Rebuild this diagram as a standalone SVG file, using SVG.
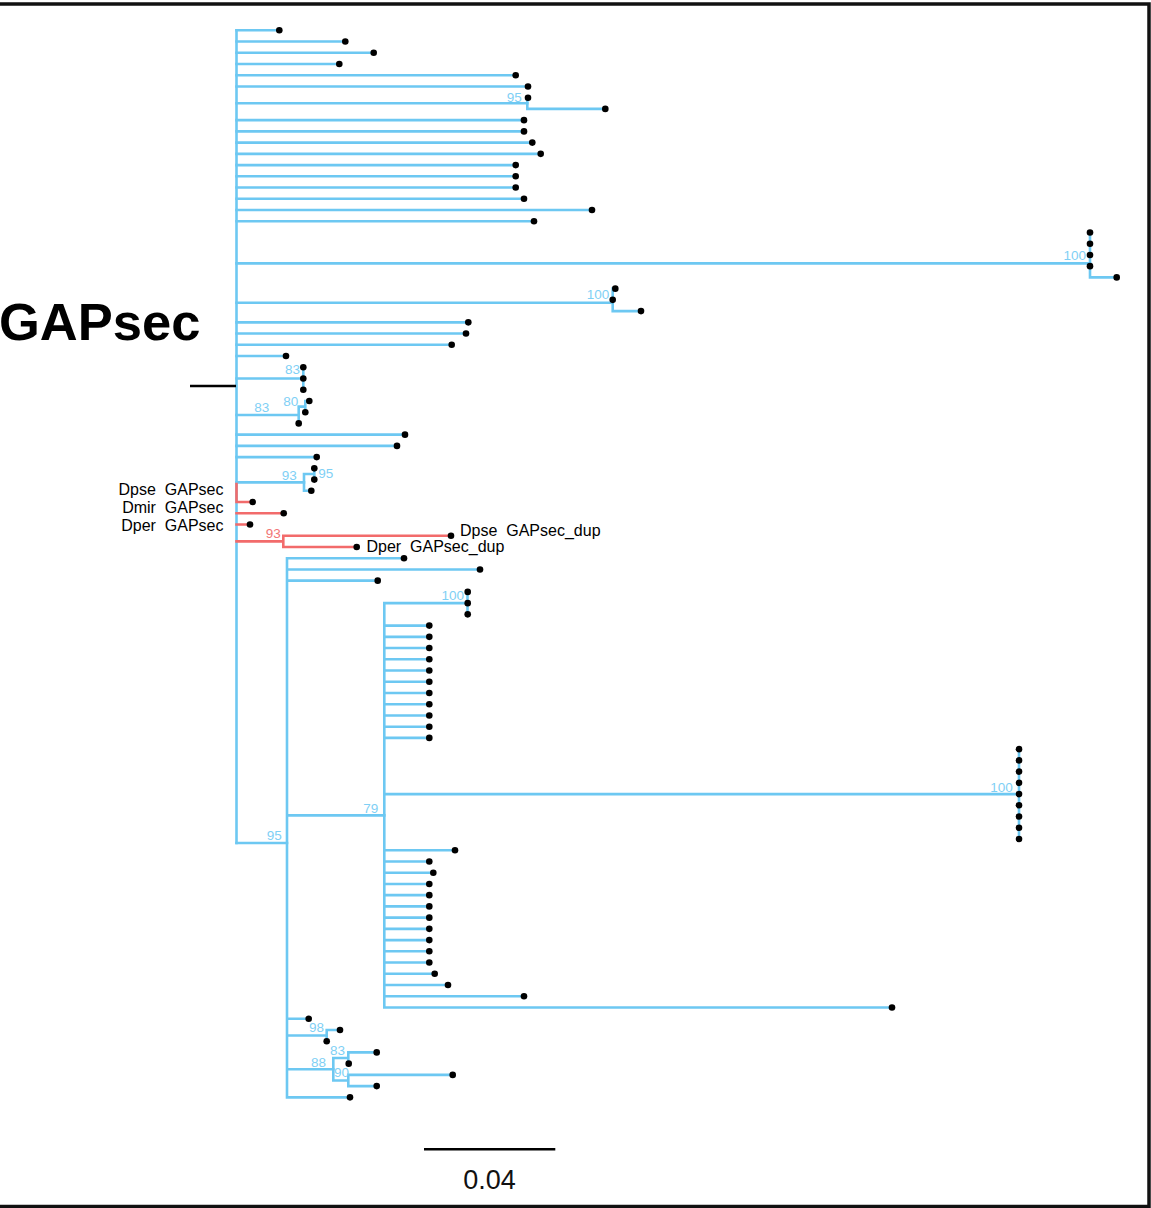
<svg xmlns="http://www.w3.org/2000/svg" width="1151" height="1208" viewBox="0 0 1151 1208">
<style>
.b{stroke:#6DC8F2;stroke-width:2.6;fill:none;stroke-linecap:square}
.r{stroke:#F26B6B;stroke-width:2.6;fill:none;stroke-linecap:square}
.d{fill:#000}
.bs{font-family:"Liberation Sans",Arial,sans-serif;font-size:13.5px;fill:#7FD0F5;text-anchor:end}
.bsr{font-family:"Liberation Sans",Arial,sans-serif;font-size:13.5px;fill:#F27575;text-anchor:end}
.lab{font-family:"Liberation Sans",Arial,sans-serif;font-size:16px;fill:#000;white-space:pre}
</style>
<rect x="0" y="0" width="1151" height="1208" fill="#fff"/>
<rect x="-5" y="4" width="1154" height="1202.5" fill="none" stroke="#111" stroke-width="3.5"/>
<text x="-1" y="340" font-family="Liberation Sans,Arial,sans-serif" font-size="52.5" font-weight="bold" fill="#000">GAPsec</text>
<g id="connectors">
<path class="b" d="M236.5 30.3V843.07"/>
<path d="M190 386H236" stroke="#000" stroke-width="2.5"/>
<path class="b" d="M236.5 30.3H279.3M236.5 41.53H345.3M236.5 52.76H373.7M236.5 64H339.3M236.5 75.23H515.7M236.5 86.46H528M236.5 103.3H527.3M236.5 120.16H524M236.5 131.39H524M236.5 142.62H532.3M236.5 153.85H540.7M236.5 165.08H515.7M236.5 176.32H515.7M236.5 187.55H515.7M236.5 198.78H524M236.5 210.01H592M236.5 221.24H534M236.5 263.4H1090M236.5 302.7H612.7M236.5 322.33H468.3M236.5 333.56H466M236.5 344.8H451.7M236.5 356.03H286M236.5 378.49H303.3M236.5 415H298.7M236.5 434.65H405M236.5 445.88H397M236.5 457.12H316.7M236.5 482.4H304M236.5 843.07H287"/>
<path class="b" d="M527.3 97.69V108.92M527.3 97.69H528M527.3 108.92H605.3"/>
<path class="b" d="M1090 232.48V277.4H1116.7"/>
<path class="b" d="M612.7 288.64V311.1H641M612.7 288.64H615.3"/>
<path class="b" d="M303.3 367.26V389.72"/>
<path class="b" d="M298.7 406.6V423.42M298.7 406.6H305.3M305.3 400.96V412.19M305.3 400.96H309.3"/>
<path class="b" d="M304 473.97V490.81H311.3M304 473.97H314.3M314.3 468.35V479.58"/>
<path class="b" d="M287 558.2V1097.34M287 558.2H404M287 569.44H480M287 580.67H377.7M287 815.34H384.3M287 1018.72H308.7M287 1035.57H326.7M287 1069.26H333.3M287 1097.34H350"/>
<path class="b" d="M384.3 603.13V1007.48M384.3 603.13H467.5M384.3 625.6H429.3M384.3 636.83H429.3M384.3 648.06H429.3M384.3 659.29H429.3M384.3 670.52H429.3M384.3 681.76H429.3M384.3 692.99H429.3M384.3 704.22H429.3M384.3 715.45H429.3M384.3 726.68H429.3M384.3 737.92H429.3M384.3 794.08H1019M384.3 850.24H455M384.3 861.47H429.3M384.3 872.7H433.3M384.3 883.93H429.3M384.3 895.16H429.3M384.3 906.4H429.3M384.3 917.63H429.3M384.3 928.86H429.3M384.3 940.09H429.3M384.3 951.32H429.3M384.3 962.56H429.3M384.3 973.79H434.7M384.3 985.02H448M384.3 996.25H524M384.3 1007.48H892"/>
<path class="b" d="M467.5 591.9V614.36M1019 749.15V839"/>
<path class="b" d="M326.7 1029.95V1041.18M326.7 1029.95H340"/>
<path class="b" d="M333.3 1058.03V1080.5M333.3 1058.03H348.3M333.3 1080.5H348.3M348.3 1052.41V1063.64M348.3 1052.41H376.7M348.3 1074.88V1086.11M348.3 1074.88H452.7M348.3 1086.11H376.7"/>
<path class="r" d="M236.5 484V502.04H252.7M236.5 513.28H283.7M236.5 524.51H250M236.5 541.36H283.3M283.3 535.74V546.97M283.3 535.74H451M283.3 546.97H356.7"/>
</g>
<g id="support">
<text class="bs" x="521.7" y="101.5">95</text>
<text class="bs" x="1086" y="260">100</text>
<text class="bs" x="609.3" y="299">100</text>
<text class="bs" x="300" y="374.3">83</text>
<text class="bs" x="298.3" y="406">80</text>
<text class="bs" x="269.3" y="411.5">83</text>
<text class="bs" x="296.7" y="480">93</text>
<text class="bs" x="318.3" y="478.3" style="text-anchor:start">95</text>
<text class="bsr" x="280.7" y="538">93</text>
<text class="bs" x="464" y="600">100</text>
<text class="bs" x="1012.7" y="792.3">100</text>
<text class="bs" x="378.3" y="813">79</text>
<text class="bs" x="281.7" y="840">95</text>
<text class="bs" x="324" y="1032">98</text>
<text class="bs" x="345" y="1055.3">83</text>
<text class="bs" x="326" y="1067.3">88</text>
<text class="bs" x="349" y="1077">90</text>
</g>
<g id="tips" class="d">
<g id="tip0"><circle cx="279.3" cy="30.3" r="3.3"/></g>
<g id="tip1"><circle cx="345.3" cy="41.53" r="3.3"/></g>
<g id="tip2"><circle cx="373.7" cy="52.76" r="3.3"/></g>
<g id="tip3"><circle cx="339.3" cy="64" r="3.3"/></g>
<g id="tip4"><circle cx="515.7" cy="75.23" r="3.3"/></g>
<g id="tip5"><circle cx="528" cy="86.46" r="3.3"/></g>
<g id="tip6"><circle cx="528" cy="97.69" r="3.3"/></g>
<g id="tip7"><circle cx="605.3" cy="108.92" r="3.3"/></g>
<g id="tip8"><circle cx="524" cy="120.16" r="3.3"/></g>
<g id="tip9"><circle cx="524" cy="131.39" r="3.3"/></g>
<g id="tip10"><circle cx="532.3" cy="142.62" r="3.3"/></g>
<g id="tip11"><circle cx="540.7" cy="153.85" r="3.3"/></g>
<g id="tip12"><circle cx="515.7" cy="165.08" r="3.3"/></g>
<g id="tip13"><circle cx="515.7" cy="176.32" r="3.3"/></g>
<g id="tip14"><circle cx="515.7" cy="187.55" r="3.3"/></g>
<g id="tip15"><circle cx="524" cy="198.78" r="3.3"/></g>
<g id="tip16"><circle cx="592" cy="210.01" r="3.3"/></g>
<g id="tip17"><circle cx="534" cy="221.24" r="3.3"/></g>
<g id="tip18"><circle cx="1090" cy="232.48" r="3.3"/></g>
<g id="tip19"><circle cx="1090" cy="243.71" r="3.3"/></g>
<g id="tip20"><circle cx="1090" cy="254.94" r="3.3"/></g>
<g id="tip21"><circle cx="1090" cy="266.17" r="3.3"/></g>
<g id="tip22"><circle cx="1116.7" cy="277.4" r="3.3"/></g>
<g id="tip23"><circle cx="615.3" cy="288.64" r="3.3"/></g>
<g id="tip24"><circle cx="612.7" cy="299.87" r="3.3"/></g>
<g id="tip25"><circle cx="641" cy="311.1" r="3.3"/></g>
<g id="tip26"><circle cx="468.3" cy="322.33" r="3.3"/></g>
<g id="tip27"><circle cx="466" cy="333.56" r="3.3"/></g>
<g id="tip28"><circle cx="451.7" cy="344.8" r="3.3"/></g>
<g id="tip29"><circle cx="286" cy="356.03" r="3.3"/></g>
<g id="tip30"><circle cx="303.3" cy="367.26" r="3.3"/></g>
<g id="tip31"><circle cx="303.3" cy="378.49" r="3.3"/></g>
<g id="tip32"><circle cx="303.3" cy="389.72" r="3.3"/></g>
<g id="tip33"><circle cx="309.3" cy="400.96" r="3.3"/></g>
<g id="tip34"><circle cx="305.3" cy="412.19" r="3.3"/></g>
<g id="tip35"><circle cx="298.7" cy="423.42" r="3.3"/></g>
<g id="tip36"><circle cx="405" cy="434.65" r="3.3"/></g>
<g id="tip37"><circle cx="397" cy="445.88" r="3.3"/></g>
<g id="tip38"><circle cx="316.7" cy="457.12" r="3.3"/></g>
<g id="tip39"><circle cx="314.3" cy="468.35" r="3.3"/></g>
<g id="tip40"><circle cx="314.3" cy="479.58" r="3.3"/></g>
<g id="tip41"><circle cx="311.3" cy="490.81" r="3.3"/></g>
<g id="tip42"><circle cx="252.7" cy="502.04" r="3.3"/><text class="lab" x="223.5" y="495" text-anchor="end" xml:space="preserve">Dpse  GAPsec</text></g>
<g id="tip43"><circle cx="283.7" cy="513.28" r="3.3"/><text class="lab" x="223.5" y="513" text-anchor="end" xml:space="preserve">Dmir  GAPsec</text></g>
<g id="tip44"><circle cx="250" cy="524.51" r="3.3"/><text class="lab" x="223.5" y="531" text-anchor="end" xml:space="preserve">Dper  GAPsec</text></g>
<g id="tip45"><circle cx="451" cy="535.74" r="3.3"/><text class="lab" x="460" y="536" xml:space="preserve">Dpse  GAPsec_dup</text></g>
<g id="tip46"><circle cx="356.7" cy="546.97" r="3.3"/><text class="lab" x="366.5" y="551.5" xml:space="preserve">Dper  GAPsec_dup</text></g>
<g id="tip47"><circle cx="404" cy="558.2" r="3.3"/></g>
<g id="tip48"><circle cx="480" cy="569.44" r="3.3"/></g>
<g id="tip49"><circle cx="377.7" cy="580.67" r="3.3"/></g>
<g id="tip50"><circle cx="467.7" cy="591.9" r="3.3"/></g>
<g id="tip51"><circle cx="467.7" cy="603.13" r="3.3"/></g>
<g id="tip52"><circle cx="467.7" cy="614.36" r="3.3"/></g>
<g id="tip53"><circle cx="429.3" cy="625.6" r="3.3"/></g>
<g id="tip54"><circle cx="429.3" cy="636.83" r="3.3"/></g>
<g id="tip55"><circle cx="429.3" cy="648.06" r="3.3"/></g>
<g id="tip56"><circle cx="429.3" cy="659.29" r="3.3"/></g>
<g id="tip57"><circle cx="429.3" cy="670.52" r="3.3"/></g>
<g id="tip58"><circle cx="429.3" cy="681.76" r="3.3"/></g>
<g id="tip59"><circle cx="429.3" cy="692.99" r="3.3"/></g>
<g id="tip60"><circle cx="429.3" cy="704.22" r="3.3"/></g>
<g id="tip61"><circle cx="429.3" cy="715.45" r="3.3"/></g>
<g id="tip62"><circle cx="429.3" cy="726.68" r="3.3"/></g>
<g id="tip63"><circle cx="429.3" cy="737.92" r="3.3"/></g>
<g id="tip64"><circle cx="1019" cy="749.15" r="3.3"/></g>
<g id="tip65"><circle cx="1019" cy="760.38" r="3.3"/></g>
<g id="tip66"><circle cx="1019" cy="771.61" r="3.3"/></g>
<g id="tip67"><circle cx="1019" cy="782.84" r="3.3"/></g>
<g id="tip68"><circle cx="1019" cy="794.08" r="3.3"/></g>
<g id="tip69"><circle cx="1019" cy="805.31" r="3.3"/></g>
<g id="tip70"><circle cx="1019" cy="816.54" r="3.3"/></g>
<g id="tip71"><circle cx="1019" cy="827.77" r="3.3"/></g>
<g id="tip72"><circle cx="1019" cy="839" r="3.3"/></g>
<g id="tip73"><circle cx="455" cy="850.24" r="3.3"/></g>
<g id="tip74"><circle cx="429.3" cy="861.47" r="3.3"/></g>
<g id="tip75"><circle cx="433.3" cy="872.7" r="3.3"/></g>
<g id="tip76"><circle cx="429.3" cy="883.93" r="3.3"/></g>
<g id="tip77"><circle cx="429.3" cy="895.16" r="3.3"/></g>
<g id="tip78"><circle cx="429.3" cy="906.4" r="3.3"/></g>
<g id="tip79"><circle cx="429.3" cy="917.63" r="3.3"/></g>
<g id="tip80"><circle cx="429.3" cy="928.86" r="3.3"/></g>
<g id="tip81"><circle cx="429.3" cy="940.09" r="3.3"/></g>
<g id="tip82"><circle cx="429.3" cy="951.32" r="3.3"/></g>
<g id="tip83"><circle cx="429.3" cy="962.56" r="3.3"/></g>
<g id="tip84"><circle cx="434.7" cy="973.79" r="3.3"/></g>
<g id="tip85"><circle cx="448" cy="985.02" r="3.3"/></g>
<g id="tip86"><circle cx="524" cy="996.25" r="3.3"/></g>
<g id="tip87"><circle cx="892" cy="1007.48" r="3.3"/></g>
<g id="tip88"><circle cx="308.7" cy="1018.72" r="3.3"/></g>
<g id="tip89"><circle cx="340" cy="1029.95" r="3.3"/></g>
<g id="tip90"><circle cx="326.7" cy="1041.18" r="3.3"/></g>
<g id="tip91"><circle cx="376.7" cy="1052.41" r="3.3"/></g>
<g id="tip92"><circle cx="348.7" cy="1063.64" r="3.3"/></g>
<g id="tip93"><circle cx="452.7" cy="1074.88" r="3.3"/></g>
<g id="tip94"><circle cx="376.7" cy="1086.11" r="3.3"/></g>
<g id="tip95"><circle cx="350" cy="1097.34" r="3.3"/></g>
</g>
<g id="scale">
<path d="M424 1149.3H555.3" stroke="#000" stroke-width="2.6"/>
<text x="489.5" y="1189" text-anchor="middle" font-family="Liberation Sans,Arial,sans-serif" font-size="27" fill="#111">0.04</text>
</g>
</svg>
